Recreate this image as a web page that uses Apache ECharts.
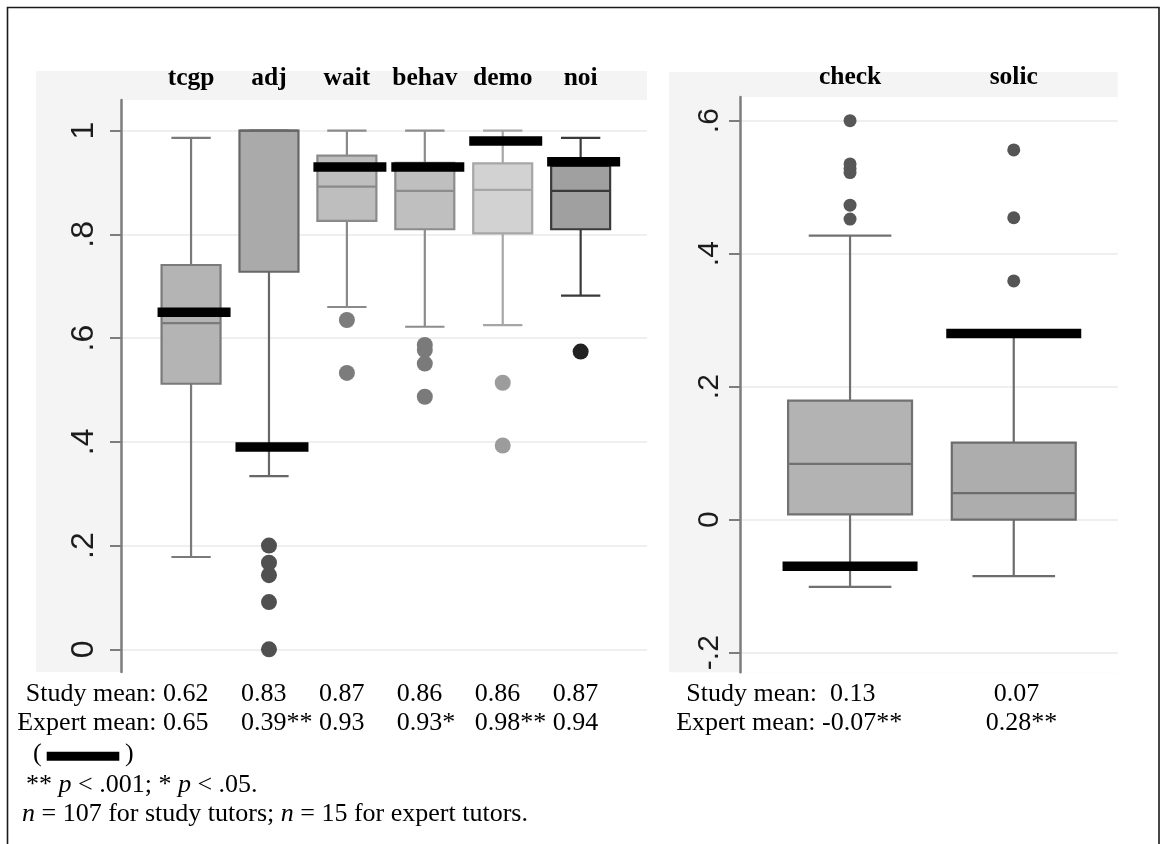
<!DOCTYPE html>
<html>
<head>
<meta charset="utf-8">
<script src="https://cdn.jsdelivr.net/npm/echarts@6/dist/echarts.min.js"></script>
<style>
  html, body { margin: 0; padding: 0; background: #ffffff; }
  #chart { width: 1160px; height: 844px; }
</style>
</head>
<body>
<div id="chart"></div>
<script>
// ---- Proportion measures (left panel) ----
const leftCategories = ['tcgp', 'adj', 'wait', 'behav', 'demo', 'noi'];
const leftWhiskerLow  = [0.178, 0.334, 0.660, 0.622, 0.625, 0.682];
const leftQ1          = [0.512, 0.728, 0.826, 0.810, 0.802, 0.810];
const leftMedian      = [0.629, 1.000, 0.892, 0.884, 0.886, 0.884];
const leftQ3          = [0.741, 1.000, 0.952, 0.938, 0.937, 0.932];
const leftWhiskerHigh = [0.986, 1.000, 1.000, 1.000, 1.000, 0.986];
const leftOutliers = [
  [],
  [0.200, 0.167, 0.143, 0.091, 0.000],
  [0.635, 0.533],
  [0.587, 0.577, 0.551, 0.487],
  [0.514, 0.393],
  [0.574]
];
const leftStudyMean  = [0.62, 0.83, 0.87, 0.86, 0.86, 0.87];
const leftExpertMean = [0.65, 0.39, 0.93, 0.93, 0.98, 0.94];
const leftExpertSig  = ['', '**', '', '*', '**', ''];
const leftTickValues = [0, 0.2, 0.4, 0.6, 0.8, 1];
const leftTickLabels = ['0', '.2', '.4', '.6', '.8', '1'];

// ---- Rate measures (right panel) ----
const rightCategories = ['check', 'solic'];
const rightWhiskerLow  = [-0.101, -0.085];
const rightQ1          = [0.008, 0.000];
const rightMedian      = [0.084, 0.040];
const rightQ3          = [0.179, 0.116];
const rightWhiskerHigh = [0.427, 0.282];
const rightOutliers = [
  [0.600, 0.535, 0.528, 0.522, 0.473, 0.452],
  [0.556, 0.454, 0.359]
];
const rightStudyMean  = [0.13, 0.07];
const rightExpertMean = [-0.07, 0.28];
const rightExpertSig  = ['**', '**'];
const rightTickValues = [-0.2, 0, 0.2, 0.4, 0.6];
const rightTickLabels = ['-.2', '0', '.2', '.4', '.6'];

// ---- styling ----
const SERIF = '"Liberation Serif", "Times New Roman", serif';
const SANS = '"Liberation Sans", Arial, sans-serif';
const leftStyles = [
  { fill: '#b4b4b4', stroke: '#7a7a7a', dot: '#7a7a7a' },
  { fill: '#aaaaaa', stroke: '#676767', dot: '#505050' },
  { fill: '#bebebe', stroke: '#8a8a8a', dot: '#7c7c7c' },
  { fill: '#bfbfbf', stroke: '#8c8c8c', dot: '#7a7a7a' },
  { fill: '#d2d2d2', stroke: '#a6a6a6', dot: '#9c9c9c' },
  { fill: '#a0a0a0', stroke: '#3a3a3a', dot: '#222222' }
];
const rightStyles = [
  { fill: '#b3b3b3', stroke: '#717171', dot: '#575757' },
  { fill: '#adadad', stroke: '#6c6c6c', dot: '#555555' }
];

function boxRows(low, q1, med, q3, high) {
  return low.map((v, i) => [i, v, q1[i], med[i], q3[i], high[i]]);
}
function outlierRows(list, styles) {
  const rows = [];
  list.forEach((vals, i) => vals.forEach(v => rows.push({ value: [i, v], itemStyle: { color: styles[i].dot } })));
  return rows;
}
function meanRows(vals) { return vals.map((v, i) => [i, v]); }

function boxRenderer(styles) {
  return function (params, api) {
    const i = api.value(0);
    const pLow = api.coord([i, api.value(1)]);
    const pQ1 = api.coord([i, api.value(2)]);
    const pMed = api.coord([i, api.value(3)]);
    const pQ3 = api.coord([i, api.value(4)]);
    const pHigh = api.coord([i, api.value(5)]);
    const band = api.size([1, 0])[0];
    const bw = band * 0.757;
    const cw = bw * 2 / 3;
    const x = pLow[0];
    const s = styles[i];
    const ls = { stroke: s.stroke, lineWidth: 2.2, fill: null };
    return {
      type: 'group',
      children: [
        { type: 'line', shape: { x1: x, y1: pHigh[1], x2: x, y2: pQ3[1] }, style: ls },
        { type: 'line', shape: { x1: x, y1: pQ1[1], x2: x, y2: pLow[1] }, style: ls },
        { type: 'line', shape: { x1: x - cw / 2, y1: pHigh[1], x2: x + cw / 2, y2: pHigh[1] }, style: ls },
        { type: 'line', shape: { x1: x - cw / 2, y1: pLow[1], x2: x + cw / 2, y2: pLow[1] }, style: ls },
        { type: 'rect', shape: { x: x - bw / 2, y: pQ3[1], width: bw, height: pQ1[1] - pQ3[1] },
          style: { fill: s.fill, stroke: s.stroke, lineWidth: 2.2 } },
        { type: 'line', shape: { x1: x - bw / 2, y1: pMed[1], x2: x + bw / 2, y2: pMed[1] }, style: ls }
      ]
    };
  };
}

function tickFormatter(values, labels) {
  return function (v) {
    for (let k = 0; k < values.length; k++) {
      if (Math.abs(values[k] - v) < 1e-9) return labels[k];
    }
    return '';
  };
}

function shownValueAxis(gridIndex, min, max, values, labels, fontSize, margin) {
  return {
    type: 'value', gridIndex, min, max,
    axisLine: { show: true, lineStyle: { color: '#7d7d7d', width: 2.5 } },
    axisTick: { show: true, length: 11, customValues: values, lineStyle: { color: '#7d7d7d', width: 2 } },
    axisLabel: {
      show: true, customValues: values, rotate: 90, margin,
      fontFamily: SANS, fontSize, color: '#1c1c1c',
      formatter: tickFormatter(values, labels)
    },
    splitLine: { show: true, lineStyle: { color: '#efefef', width: 2 } }
  };
}
function hiddenValueAxis(gridIndex, min, max) {
  return { type: 'value', gridIndex, min, max, show: false, splitLine: { show: false } };
}
function headerAxis(gridIndex, cats, margin) {
  return {
    type: 'category', gridIndex, data: cats, position: 'top',
    axisLine: { show: false }, axisTick: { show: false }, splitLine: { show: false },
    axisLabel: {
      show: true, interval: 0, hideOverlap: false, margin,
      fontFamily: SERIF, fontWeight: 'bold', fontSize: 25.5, color: '#000'
    }
  };
}

const LMIN = -0.0438, LMAX = 1.0592;
const RMIN = -0.2295, RMAX = 0.6356;

const chart = echarts.init(document.getElementById('chart'));
chart.setOption({
  backgroundColor: '#ffffff',
  animation: false,
  grid: [
    { left: 121, right: 513, top: 100, bottom: 172 },
    { left: 152.1, right: 540.4, top: 100, bottom: 172 },
    { left: 740, right: 42.3, top: 97, bottom: 171.7 },
    { left: 768.2, right: 64.4, top: 97, bottom: 171.7 }
  ],
  xAxis: [
    { type: 'value', gridIndex: 0, show: false, min: 0, max: 1 },
    headerAxis(1, leftCategories, 9),
    { type: 'value', gridIndex: 2, show: false, min: 0, max: 1 },
    headerAxis(3, rightCategories, 7)
  ],
  yAxis: [
    shownValueAxis(0, LMIN, LMAX, leftTickValues, leftTickLabels, 32, 21),
    hiddenValueAxis(1, LMIN, LMAX),
    shownValueAxis(2, RMIN, RMAX, rightTickValues, rightTickLabels, 30, 15),
    hiddenValueAxis(3, RMIN, RMAX)
  ],
  series: [
    {
      type: 'custom', xAxisIndex: 1, yAxisIndex: 1, z: 2,
      renderItem: boxRenderer(leftStyles),
      data: boxRows(leftWhiskerLow, leftQ1, leftMedian, leftQ3, leftWhiskerHigh)
    },
    {
      type: 'scatter', xAxisIndex: 1, yAxisIndex: 1, z: 3,
      symbol: 'circle', symbolSize: 16, itemStyle: { opacity: 1 },
      data: outlierRows(leftOutliers, leftStyles)
    },
    {
      type: 'scatter', xAxisIndex: 1, yAxisIndex: 1, z: 4,
      symbol: 'rect', symbolSize: [73, 9.5], symbolOffset: [3, 0],
      itemStyle: { color: '#000000', opacity: 1 },
      data: meanRows(leftExpertMean)
    },
    {
      type: 'custom', xAxisIndex: 3, yAxisIndex: 3, z: 2,
      renderItem: boxRenderer(rightStyles),
      data: boxRows(rightWhiskerLow, rightQ1, rightMedian, rightQ3, rightWhiskerHigh)
    },
    {
      type: 'scatter', xAxisIndex: 3, yAxisIndex: 3, z: 3,
      symbol: 'circle', symbolSize: 13, itemStyle: { opacity: 1 },
      data: outlierRows(rightOutliers, rightStyles)
    },
    {
      type: 'scatter', xAxisIndex: 3, yAxisIndex: 3, z: 4,
      symbol: 'rect', symbolSize: [135, 9.5],
      itemStyle: { color: '#000000', opacity: 1 },
      data: meanRows(rightExpertMean)
    }
  ]
});

// ---- panel backgrounds, frame and the mean tables beneath each panel ----
const textBase = { fontFamily: SERIF, fontSize: 26, fill: '#000', verticalAlign: 'middle' };
const italicRich = { i: { fontFamily: SERIF, fontSize: 26, fontStyle: 'italic', fill: '#000' } };
function txt(x, y, text, align) {
  return { type: 'text', x, y, z: 5, style: Object.assign({}, textBase, { text, align: align || 'left', rich: italicRich }) };
}
const fmt = v => v.toFixed(2);

const STUDY_Y = 694, EXPERT_Y = 723;
const els = [
  { type: 'rect', z: -3, shape: { x: 7.5, y: 7.5, width: 1151.5, height: 900 }, style: { fill: '#ffffff', stroke: '#1a1a1a', lineWidth: 1.6 } },
  { type: 'rect', z: -2, shape: { x: 36, y: 71, width: 611, height: 601 }, style: { fill: '#f4f4f4' } },
  { type: 'rect', z: -1, shape: { x: 121, y: 100, width: 526, height: 572 }, style: { fill: '#ffffff' } },
  { type: 'rect', z: -2, shape: { x: 669, y: 72, width: 448.7, height: 600.3 }, style: { fill: '#f4f4f4' } },
  { type: 'rect', z: -1, shape: { x: 740, y: 97, width: 377.7, height: 575.3 }, style: { fill: '#ffffff' } }
];

leftCategories.forEach((c, i) => {
  const cx = chart.convertToPixel({ xAxisIndex: 1 }, i);
  const x = cx - 28;
  if (i === 0) {
    els.push(txt(x, STUDY_Y, 'Study mean: ', 'right'));
    els.push(txt(x, EXPERT_Y, 'Expert mean: ', 'right'));
  }
  els.push(txt(x, STUDY_Y, fmt(leftStudyMean[i])));
  els.push(txt(x, EXPERT_Y, fmt(leftExpertMean[i]) + leftExpertSig[i]));
});
rightCategories.forEach((c, i) => {
  const cx = chart.convertToPixel({ xAxisIndex: 3 }, i);
  const xs = cx - 20, xe = cx - 28;
  if (i === 0) {
    els.push(txt(xs, STUDY_Y, 'Study mean:  ', 'right'));
    els.push(txt(xe, EXPERT_Y, 'Expert mean: ', 'right'));
  }
  els.push(txt(xs, STUDY_Y, fmt(rightStudyMean[i])));
  els.push(txt(xe, EXPERT_Y, fmt(rightExpertMean[i]) + rightExpertSig[i]));
});

// key for the expert-mean bar
els.push(txt(33, 754, '('));
els.push({ type: 'rect', z: 5, shape: { x: 46.7, y: 751.7, width: 72.6, height: 9 }, style: { fill: '#000' } });
els.push(txt(125, 754, ')'));
els.push(txt(26, 785, '** {i|p} < .001; * {i|p} < .05.'));
els.push(txt(22, 814, '{i|n} = 107 for study tutors; {i|n} = 15 for expert tutors.'));

chart.setOption({ graphic: { elements: els } });
</script>
</body>
</html>
